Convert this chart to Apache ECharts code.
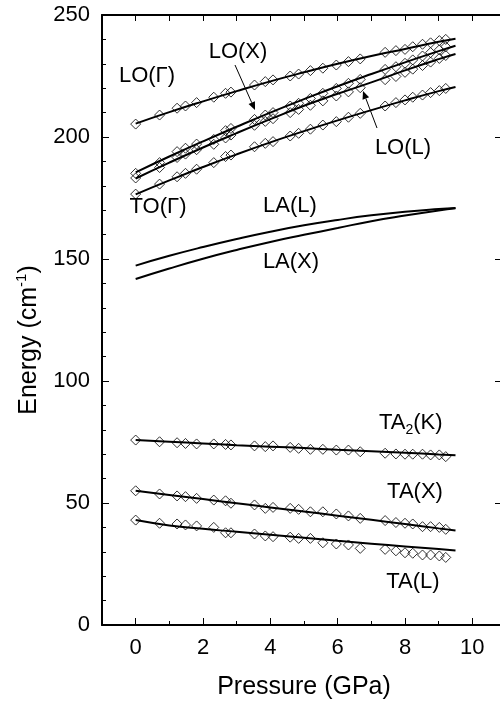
<!DOCTYPE html>
<html>
<head>
<meta charset="utf-8">
<script src="https://cdn.jsdelivr.net/npm/echarts@6/dist/echarts.min.js"></script>
<style>
html,body{margin:0;padding:0;background:#fff;overflow:hidden;}
#chart{width:500px;height:708px;}
</style>
</head>
<body>
<div id="chart"></div>
<script>
// ---- data ----
var pointPressures = [0, 0.71, 1.23, 1.48, 1.81, 2.32, 2.67, 2.83, 3.53, 3.85, 4.08, 4.59, 4.84, 5.19, 5.56, 5.96, 6.32, 6.67, 7.41, 7.73, 8.0, 8.23, 8.52, 8.76, 9.02, 9.21];
var loGammaPts = [205.3, 209.0, 211.8, 212.7, 214.1, 216.3, 217.9, 218.4, 221.3, 222.7, 223.4, 225.0, 225.8, 227.2, 228.2, 229.5, 230.9, 232.0, 234.7, 235.4, 235.9, 237.0, 238.0, 238.6, 239.5, 240.0];
var loXPts = [185.1, 189.5, 194.0, 195.4, 197.1, 199.0, 202.6, 203.5, 207.2, 209.0, 210.0, 212.7, 213.8, 215.8, 217.9, 219.9, 222.0, 223.6, 227.7, 228.8, 230.2, 231.6, 233.2, 234.6, 235.7, 237.0];
var loLPts = [183.2, 187.5, 191.6, 193.0, 194.8, 197.0, 199.6, 200.8, 204.8, 206.4, 207.5, 210.0, 211.3, 213.0, 214.8, 216.8, 218.5, 220.2, 223.5, 224.8, 226.5, 227.8, 229.3, 230.7, 232.2, 233.4];
var toGammaPts = [176.6, 180.7, 183.7, 185.1, 186.8, 189.5, 192.0, 192.6, 196.0, 197.4, 198.1, 200.4, 201.5, 203.2, 204.9, 206.3, 208.1, 209.7, 212.7, 214.1, 215.2, 216.3, 217.2, 218.2, 219.0, 219.9];
var ta2KPts = [75.8, 75.1, 74.7, 74.4, 74.2, 74.2, 74.0, 73.8, 73.4, 73.1, 73.4, 72.8, 72.4, 72.0, 72.0, 71.7, 71.7, 71.0, 70.4, 70.1, 70.0, 70.0, 70.0, 69.7, 69.7, 69.0];
var taXPts = [55.0, 53.7, 52.9, 52.6, 51.9, 51.2, 50.9, 49.9, 49.2, 47.8, 48.2, 47.8, 47.4, 46.4, 46.4, 45.5, 44.7, 43.7, 42.8, 42.0, 41.7, 41.4, 40.3, 40.3, 40.0, 39.2];
var taLPts = [43.0, 41.7, 41.4, 41.0, 40.6, 40.0, 37.8, 37.8, 37.3, 36.5, 36.2, 36.0, 35.5, 35.5, 33.7, 33.2, 32.8, 31.4, 31.0, 30.4, 29.6, 29.4, 28.7, 28.7, 28.3, 27.7];

var linePressures = [0, 1, 2, 3, 4, 5, 6, 7, 8, 9, 9.5];
var loGammaLine = [205.5, 210.2, 214.6, 218.8, 222.8, 226.5, 230.0, 233.2, 236.1, 239.0, 240.3];
var loXLine = [185.5, 192.0, 198.2, 204.2, 210.0, 215.5, 220.8, 225.8, 230.6, 235.2, 237.4];
var loLLine = [183.0, 189.5, 195.7, 201.6, 207.3, 212.8, 217.7, 222.4, 227.3, 231.9, 234.0];
var toGammaLine = [176.5, 182.2, 187.7, 192.9, 197.8, 202.4, 206.8, 211.0, 215.0, 218.8, 220.5];
var laLLine = [147.3, 151.3, 154.9, 158.2, 161.2, 163.8, 166.0, 167.9, 169.4, 170.5, 170.9];
var laXLine = [141.8, 146.1, 150.1, 153.7, 157.0, 159.9, 162.7, 165.5, 167.8, 169.9, 170.8];
var ta2KLine = [75.8, 75.1, 74.4, 73.7, 73.1, 72.5, 71.8, 71.2, 70.6, 69.9, 69.6];
var taXLine = [55.0, 53.3, 51.6, 49.9, 48.2, 46.5, 44.8, 43.1, 41.4, 39.6, 38.7];
var taLLine = [43.0, 40.8, 39.4, 38.2, 37.0, 35.8, 34.5, 33.3, 32.2, 31.1, 30.5];

var xMajorTicks = [0, 2, 4, 6, 8, 10];

// ---- build ----
function pairs(xs, ys) { return xs.map(function (x, i) { return [x, ys[i]]; }); }

var FONT = 'Liberation Sans, Arial, sans-serif';
var chart = echarts.init(document.getElementById('chart'), null, {renderer: 'canvas'});

function lineSeries(vals) {
  return {
    type: 'line', xAxisIndex: 0, yAxisIndex: 0, data: pairs(linePressures, vals),
    smooth: true, showSymbol: false, symbol: 'none',
    lineStyle: {color: '#000', width: 2}, z: 3, silent: true
  };
}
function pointSeries(vals) {
  return {
    type: 'scatter', xAxisIndex: 0, yAxisIndex: 0, data: pairs(pointPressures, vals),
    symbol: 'diamond', symbolSize: 10,
    itemStyle: {color: 'rgba(255,255,255,0)', borderColor: '#000', borderWidth: 1},
    z: 2, silent: true
  };
}

var series = [
  pointSeries(loGammaPts), pointSeries(loXPts), pointSeries(loLPts), pointSeries(toGammaPts),
  pointSeries(ta2KPts), pointSeries(taXPts), pointSeries(taLPts),
  lineSeries(loGammaLine), lineSeries(loXLine), lineSeries(loLLine), lineSeries(toGammaLine),
  lineSeries(laLLine), lineSeries(laXLine), lineSeries(ta2KLine), lineSeries(taXLine), lineSeries(taLLine)
];

var txt = {fontFamily: FONT, fontSize: 22, fill: '#000'};
function label(x, y, t) {
  return {type: 'text', x: x, y: y, style: Object.assign({text: t, align: 'center', verticalAlign: 'middle'}, txt), z: 10};
}
function arrow(x1, y1, x2, y2) {
  var a = Math.atan2(y2 - y1, x2 - x1), L = 8, W = 3.5;
  var bx = x2 - L * Math.cos(a), by = y2 - L * Math.sin(a);
  var px = -Math.sin(a) * W, py = Math.cos(a) * W;
  return [
    {type: 'line', shape: {x1: x1, y1: y1, x2: bx, y2: by}, style: {stroke: '#000', lineWidth: 1}, z: 10},
    {type: 'polygon', shape: {points: [[x2, y2], [bx + px, by + py], [bx - px, by - py]]}, style: {fill: '#000'}, z: 10}
  ];
}

var graphics = [
  label(147, 76, 'LO(Γ)'),
  label(238, 52, 'LO(X)'),
  label(158, 207, 'TO(Γ)'),
  label(290, 206, 'LA(L)'),
  label(291, 262, 'LA(X)'),
  label(403, 148, 'LO(L)'),
  {type: 'text', x: 379, y: 423, z: 10, style: {
    text: 'TA{sub|2}(K)', align: 'left', verticalAlign: 'middle', fontFamily: FONT, fontSize: 22, fill: '#000', lineHeight: 28,
    rich: {sub: {fontFamily: FONT, fontSize: 14, fill: '#000', verticalAlign: 'bottom', lineHeight: 14}}
  }},
  label(415, 492, 'TA(X)'),
  label(413, 582, 'TA(L)'),
  {type: 'text', x: 29, y: 340, rotation: Math.PI / 2, z: 10, style: {
    text: 'Energy (cm{sup|-1})', align: 'center', verticalAlign: 'middle', fontFamily: FONT, fontSize: 25, fill: '#000', lineHeight: 30,
    rich: {sup: {fontFamily: FONT, fontSize: 15, fill: '#000', verticalAlign: 'top', lineHeight: 15}}
  }}
].concat(arrow(235, 65, 255, 110)).concat(arrow(377, 128, 363, 91));

var option = {
  animation: false,
  backgroundColor: '#fff',
  grid: {left: 102, top: 15, width: 404, height: 610, containLabel: false, outerBoundsMode: 'none'},
  xAxis: [
    {
      type: 'value', position: 'bottom', min: -1, max: 11,
      name: 'Pressure (GPa)', nameLocation: 'middle', nameGap: 50,
      nameTextStyle: {fontFamily: FONT, fontSize: 25, color: '#000'},
      axisLine: {show: true, onZero: false, lineStyle: {color: '#000', width: 2}},
      axisTick: {show: true, inside: true, length: 7, customValues: xMajorTicks, lineStyle: {color: '#000', width: 1}},
      axisLabel: {show: true, margin: 12, customValues: xMajorTicks, fontFamily: FONT, fontSize: 22, color: '#000'},
      splitLine: {show: false}
    },
    {
      type: 'value', position: 'bottom', min: -1, max: 11, interval: 1,
      axisLine: {show: false},
      axisTick: {show: true, inside: true, length: 4, lineStyle: {color: '#000', width: 1}},
      axisLabel: {show: false}, splitLine: {show: false}
    },
    {
      type: 'value', position: 'top', min: -1, max: 11, interval: 1,
      axisLine: {show: true, onZero: false, lineStyle: {color: '#000', width: 2}},
      axisTick: {show: true, inside: true, length: 6, lineStyle: {color: '#000', width: 1}},
      axisLabel: {show: false}, splitLine: {show: false}
    }
  ],
  yAxis: [
    {
      type: 'value', position: 'left', min: 0, max: 250, interval: 50,
      axisLine: {show: true, onZero: false, lineStyle: {color: '#000', width: 2}},
      axisTick: {show: true, inside: true, length: 7, lineStyle: {color: '#000', width: 1}},
      minorTick: {show: true, splitNumber: 5, length: 4, lineStyle: {color: '#000', width: 1}},
      axisLabel: {show: true, margin: 12, fontFamily: FONT, fontSize: 22, color: '#000'},
      splitLine: {show: false}, minorSplitLine: {show: false}
    },
    {
      type: 'value', position: 'right', min: 0, max: 250, interval: 50,
      axisLine: {show: true, onZero: false, lineStyle: {color: '#000', width: 2}},
      axisTick: {show: true, inside: true, length: 11, lineStyle: {color: '#000', width: 1}},
      axisLabel: {show: false}, splitLine: {show: false}
    }
  ],
  series: series,
  graphic: graphics
};
chart.setOption(option);
</script>
</body>
</html>
